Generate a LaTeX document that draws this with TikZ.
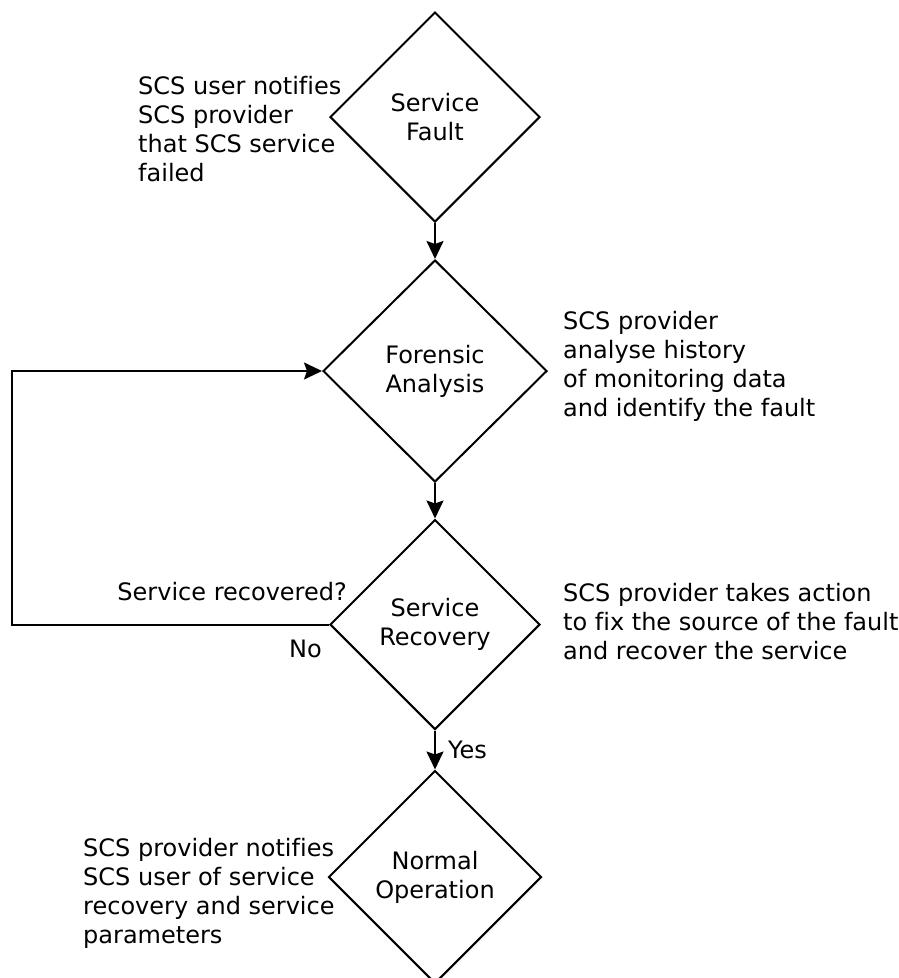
\documentclass[tikz,border=0pt]{standalone}
\usepackage{fontspec}
\setmainfont{DejaVu Sans}[Ligatures=NoCommon]
\usetikzlibrary{shapes.geometric,arrows.meta}

\tikzset{
  every node/.style={font=\fontsize{24}{29}\selectfont},
  stage/.style={draw, shape=diamond, aspect=1, inner sep=0pt, align=center,
    line width=2pt, minimum width=210pt, minimum height=210pt},
  note/.style={anchor=west, align=left, inner sep=0pt},
  flow/.style={line width=2pt, -{Stealth[length=18pt,width=17pt,inset=3pt]}}
}

\begin{document}
\begin{tikzpicture}[x=1pt,y=-1pt]
      \useasboundingbox (0,0) rectangle (899,978);
      \begin{scope}
        \clip (0,0) rectangle (899,978);
        \node[stage] (fault) at (435,117) {Service\\Fault};
        \node[stage, minimum width=224pt, minimum height=222pt] (forensic) at (435,371) {Forensic\\Analysis};
        \node[stage] (recovery) at (435,624.5) {Service\\Recovery};
        \node[stage, minimum width=213pt, minimum height=213pt] (normal) at (435,877) {Normal\\Operation};
      \end{scope}
      \node[note] (faultnote) at (138,129.5) {SCS user notifies\\SCS provider\\that SCS service\\failed};
      \node[note] (forensicnote) at (563,366) {SCS provider\\analyse history\\of monitoring data\\and identify the fault};
      \node[note] (recoverynote) at (563,622) {SCS provider takes action\\to fix the source of the fault\\and recover the service};
      \node[note] (normalnote) at (83,893) {SCS provider notifies\\SCS user of service\\recovery and service\\parameters};
      \node[anchor=base east, inner sep=0pt] (question) at (347,600) {Service recovered?};
      \node[anchor=base west, inner sep=0pt] (nolabel) at (289,657) {No};
      \node[anchor=base west, inner sep=0pt] (yeslabel) at (448,758) {Yes};
      \coordinate (loopcorner) at (12,624.5);
      \begin{scope}[flow]
        \draw (fault) to (forensic);
        \draw (forensic) to (recovery);
        \draw (recovery) to (normal);
        \draw (recovery.west) -- (loopcorner) |- (forensic.west);
      \end{scope}
    \end{tikzpicture}
\end{document}
